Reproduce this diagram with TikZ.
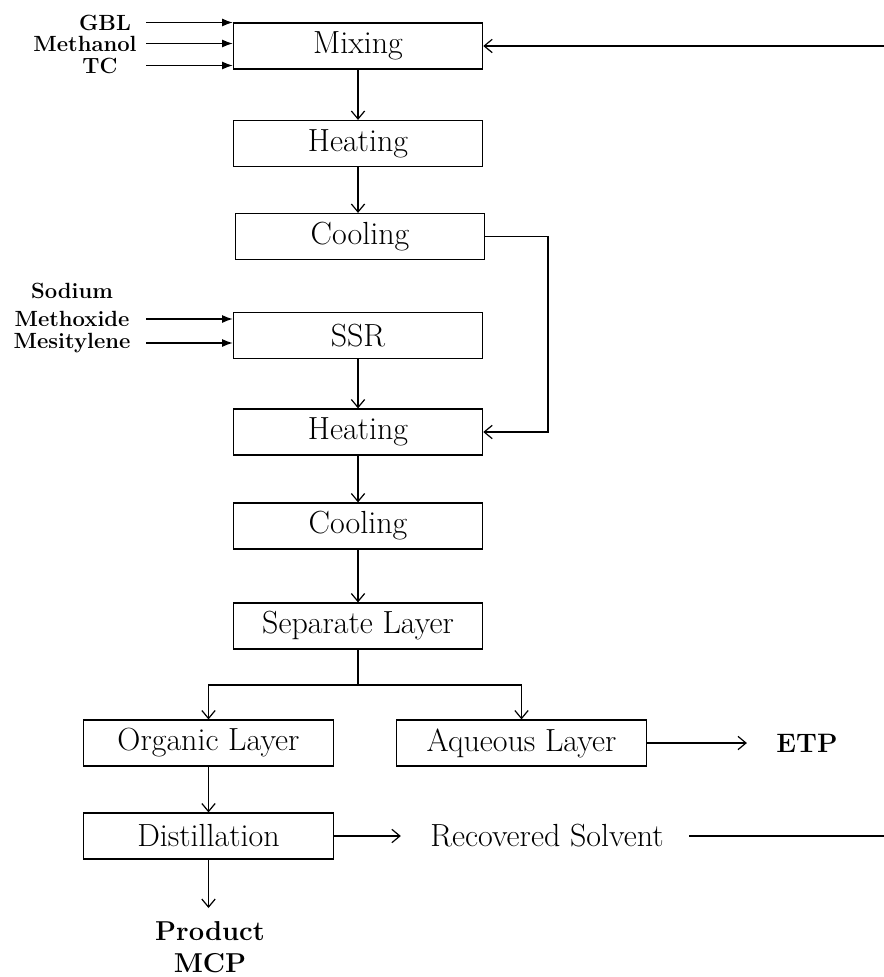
\documentclass[tikz,border=0pt]{standalone}
\usepackage{tikz}
\usetikzlibrary{arrows.meta}

\begin{document}
\begin{tikzpicture}[x=0.75pt, y=-0.75pt,
    proc node/.style={draw, line width=0.9pt, minimum width=187pt, minimum height=34.5pt, inner sep=0pt, font=\fontsize{24}{28}\selectfont},
    feed node/.style={inner sep=0pt, font=\fontsize{16.5}{18}\selectfont\bfseries},
    out node/.style={inner sep=0pt, font=\fontsize{24}{28}\selectfont},
    flow/.style={line width=0.9pt, -{Straight Barb[length=6pt,width=10pt]}},
    feed/.style={line width=0.9pt, -{Latex[length=8pt,width=6pt]}},
    ]
  \useasboundingbox (0,0) rectangle (884,977);
  \coordinate (feedx) at (146,0);
  \coordinate (loopx) at (548,0);
  \coordinate (edge) at (884,0);

  \node[proc node] (mix) at (358,46) {Mixing};
  \node[proc node] (heat1) at (358,143.5) {Heating};
  \node[proc node] (cool1) at (360,236.5) {Cooling};
  \node[proc node] (ssr) at (358,335.5) {SSR};
  \node[proc node] (heat2) at (358,432) {Heating};
  \node[proc node] (cool2) at (358,526) {Cooling};
  \node[proc node] (sep) at (358,626) {Separate Layer};
  \node[proc node] (org) at (208.5,743) {Organic Layer};
  \node[proc node] (aq) at (521.5,743) {Aqueous Layer};
  \node[proc node] (dist) at (208.5,836) {Distillation};

  \node[feed node] (gbl) at (105,22.5) {GBL};
  \node[feed node] (meoh) at (85,43.5) {Methanol};
  \node[feed node] (tc) at (100,65.5) {TC};
  \node[feed node] (sod) at (72,291) {Sodium};
  \node[feed node] (methox) at (72,319) {Methoxide};
  \node[feed node] (mesit) at (72,343) {Mesitylene};

  \node[out node, font=\fontsize{20}{24}\selectfont\bfseries] (etp) at (807,743) {ETP};
  \node[out node] (recov) at (547,836) {Recovered Solvent};
  \node[out node, font=\fontsize{20.5}{24}\selectfont\bfseries, align=center, anchor=north] (prod) at (210,921) {Product\\MCP};
  \coordinate (prodtop) at (208.5,908);

  \draw[feed] (gbl -| feedx) -- (gbl -| mix.west);
  \draw[feed] (meoh -| feedx) -- (meoh -| mix.west);
  \draw[feed] (tc -| feedx) -- (tc -| mix.west);
  \draw[feed] (methox -| feedx) -- (methox -| ssr.west);
  \draw[feed] (mesit -| feedx) -- (mesit -| ssr.west);

  \draw[flow] (mix) -- (heat1);
  \draw[flow] (heat1) -- (heat1 |- cool1.north);
  \draw[flow] (ssr) -- (heat2);
  \draw[flow] (heat2) -- (cool2);
  \draw[flow] (cool2) -- (sep);
  \draw[flow] (cool1.east) -- (cool1 -| loopx) |- (heat2.east);

  \coordinate (split) at (358,685);
  \draw[line width=0.9pt] (sep.south) -- (split);
  \draw[flow] (split) -| (org.north);
  \draw[flow] (split) -| (aq.north);
  \draw[flow] (org) -- (dist);
  \draw[flow] (aq.east) -- ([xshift=-22pt]etp.west);
  \draw[flow] (dist.east) -- ([xshift=-22pt]recov.west);
  \draw[flow] (dist.south) -- (prodtop);
  \draw[line width=0.9pt] ([xshift=19pt]recov.east) -- (recov -| edge);
  \draw[flow] (mix -| edge) -- (mix.east);
\end{tikzpicture}
\end{document}
